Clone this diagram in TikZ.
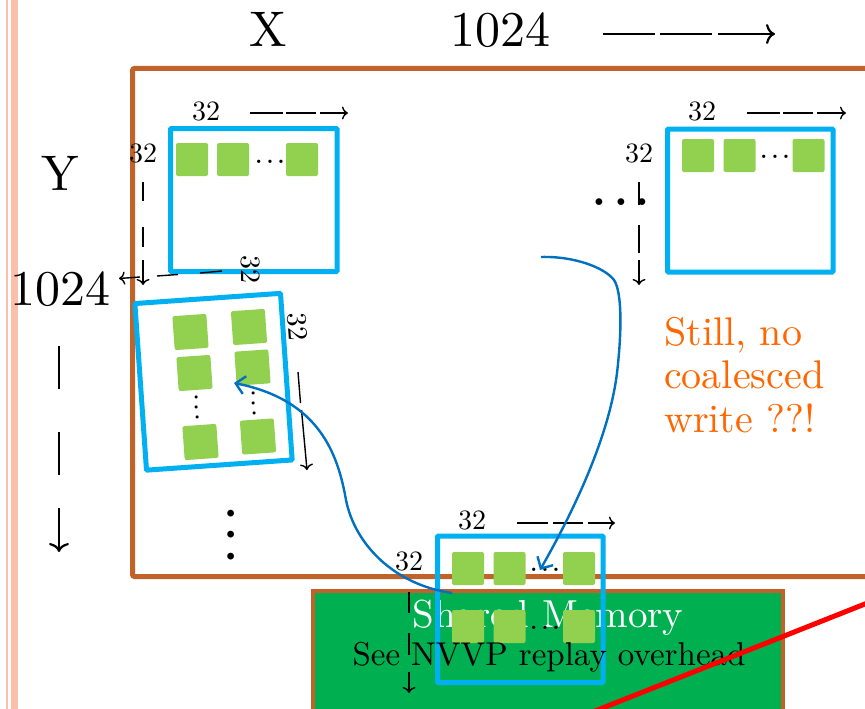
\documentclass[tikz,border=0pt]{standalone}
\usepackage{fontspec}
\setmainfont{lmroman10-regular}[Extension=.otf]
\usetikzlibrary{arrows.meta}
\definecolor{tileblue}{RGB}{0,176,240}
\definecolor{sqgreen}{RGB}{146,208,80}
\definecolor{smgreen}{RGB}{0,176,80}
\definecolor{arrowblue}{RGB}{0,112,192}
\definecolor{brownline}{RGB}{193,98,42}
\definecolor{pinkline}{RGB}{250,192,172}
\definecolor{warnorange}{RGB}{255,102,0}
\newcommand\tdots[1]{.\kern#1.\kern#1.}
\begin{document}
\begin{tikzpicture}[x=1pt,y=-1pt,
  tile/.style={draw=tileblue,line width=5pt,rounded corners=1pt,inner sep=0pt,outer sep=0pt},
  sq/.style={fill=sqgreen,rounded corners=2pt,minimum width=32pt,minimum height=33pt,inner sep=0pt},
  rsq/.style={sq,minimum width=34pt,minimum height=34pt,rotate=4},
  dimline/.style={line width=1.4pt,black},
  dimarrow/.style={dimline,-{To[length=6pt,width=13pt]}},
  bigline/.style={line width=2.2pt,black},
  bigarrow/.style={bigline,-{To[length=9pt,width=20pt]}},
  lbl/.style={inner sep=0pt,font=\fontsize{28}{30}\selectfont},
  big/.style={inner sep=0pt,font=\fontsize{50}{55}\selectfont},
  dotsm/.style={inner sep=0pt,font=\fontsize{32}{34}\selectfont},
  dotbig/.style={inner sep=0pt,font=\fontsize{64}{66}\selectfont},
  warn/.style={inner sep=0pt,anchor=base west,text=warnorange,font=\fontsize{40}{46}\selectfont},
  curv/.style={draw=arrowblue,line width=2.4pt,-{Straight Barb[length=9pt,width=18pt,line width=2.4pt]}}
]
\useasboundingbox (0,0) rectangle (865,709);
\clip (0,0) rectangle (865,709);

% slide border
\fill[pinkline] (6,-5) rectangle (8,715);
\fill[pinkline] (11,-5) rectangle (18,715);

% matrix frame
\draw[brownline,line width=5pt,rounded corners=2pt] (132.5,68.5) rectangle (890,576.5);

% shared memory
\filldraw[fill=smgreen,draw=brownline,line width=4pt] (313,591) rectangle (783,730);
\node[inner sep=0pt,anchor=base,text=white,font=\fontsize{39}{42}\selectfont] (smtitle) at (548,627) {Shared Memory};

% top-left tile
\node[sq] (a1) at (192,159.5) {};
\node[sq] (a2) at (233,159.5) {};
\node[sq] (a3) at (302,159.5) {};
\node[dotsm] (ad) at (270,162) {\tdots{2.2pt}};
\node[tile,minimum width=166.5pt,minimum height=143pt] (ta) at (253.75,200) {};

% top-right tile
\node[sq] (b1) at (698,155.5) {};
\node[sq] (b2) at (739.5,155.5) {};
\node[sq] (b3) at (808.5,155.5) {};
\node[dotsm] (bd) at (775,157) {\tdots{2.2pt}};
\node[tile,minimum width=165.5pt,minimum height=143pt] (tb) at (750.25,200.5) {};

% bottom tile
\node[sq] (c1) at (468,568.5) {};
\node[sq] (c2) at (509.5,568.5) {};
\node[sq] (c3) at (579,568.5) {};
\node[dotsm] (cd) at (545,570) {\tdots{2.2pt}};
\node[sq] (c4) at (468,626.5) {};
\node[sq] (c5) at (509.5,626.5) {};
\node[sq] (c6) at (579,626.5) {};
\node[dotsm] (ce) at (545,628) {\tdots{2.2pt}};
\node[tile,minimum width=165.5pt,minimum height=146.5pt] (tc) at (520.25,609.25) {};
\node[inner sep=0pt,anchor=base,font=\fontsize{33}{36}\selectfont] (smnote) at (549,665) {See NVVP replay overhead};

% rotated tile
\node[rsq] (d1) at (190.5,332) {};
\node[rsq] (d2) at (249,327) {};
\node[rsq] (d3) at (194.5,373) {};
\node[rsq] (d4) at (252.5,367.5) {};
\node[rsq] (d5) at (200.5,442) {};
\node[rsq] (d6) at (258,436.5) {};
\node[inner sep=0pt,font=\fontsize{30}{32}\selectfont,rotate=94] (dd1) at (197,407.5) {\tdots{2pt}};
\node[inner sep=0pt,font=\fontsize{30}{32}\selectfont,rotate=94] (dd2) at (254,403.5) {\tdots{2pt}};
\node[tile,minimum width=146pt,minimum height=167pt,rotate=4] (td) at (213.5,381.75) {};

% big axis labels
\node[big,anchor=base] (xl) at (268,47) {X};
\node[big,anchor=base] (xn) at (500,47) {1024};
\draw[bigline] (603,34) -- (655,34) (660,34) -- (712,34);
\draw[bigarrow] (718,34) -- (775,34);
\node[big,anchor=base] (yl) at (60,190) {Y};
\node[big,anchor=base] (yn) at (60,305) {1024};
\draw[bigline] (59,346) -- (59,389) (59,432) -- (59,475);
\draw[bigarrow] (59,508) -- (59,552);

% tile size labels
\node[lbl,anchor=base] (la1) at (206,121) {32};
\draw[dimline] (250,113) -- (283,113) (286,113) -- (316,113);
\draw[dimarrow] (320,113) -- (348,113);
\node[lbl,anchor=base] (la2) at (143,162) {32};
\draw[dimline] (143,182) -- (143,201) (143,227) -- (143,247);
\draw[dimarrow] (143,260) -- (143,285);

\node[lbl,anchor=base] (lb1) at (702,121) {32};
\draw[dimline] (747,113) -- (780,113) (783,113) -- (813,113);
\draw[dimarrow] (817,113) -- (846,113);
\node[lbl,anchor=base] (lb2) at (639,162) {32};
\draw[dimline] (639,182) -- (639,205) (639,225) -- (639,253);
\draw[dimarrow] (639,260) -- (639,285);

\node[lbl,anchor=base] (lc1) at (472,529) {32};
\draw[dimline] (517,523) -- (548,523) (553,523) -- (583,523);
\draw[dimarrow] (588,523) -- (615,523);
\node[lbl,anchor=base] (lc2) at (409,570) {32};
\draw[dimline] (409,592) -- (409,613) (409,633) -- (409,655);
\draw[dimarrow] (409,672) -- (409,693);

\node[lbl,rotate=-90] (ld1) at (251,269) {32};
\draw[dimline] (222,271) -- (200,273) (178,274.5) -- (157,276);
\draw[dimarrow] (140,277) -- (119,278.5);
\node[lbl,rotate=-86] (ld2) at (297,327) {32};
\draw[dimline] (298,372) -- (300.5,403);
\draw[dimarrow] (301.5,410) -- (307,470);

% continuation dots
\node[dotbig] (hd) at (621,202) {\tdots{3.7pt}};
\node[dotbig,rotate=90] (vd) at (231,535) {\tdots{3.7pt}};

% remark
\node[warn] (w1) at (664,345) {Still, no};
\node[warn] (w2) at (664,388) {coalesced};
\node[warn] (w3) at (664,432) {write ??!};

% data movement arrows
\coordinate (srcA) at (541,257);
\coordinate (dstA) at (540,570);
\coordinate (srcB) at (452,593);
\coordinate (dstB) at (234,383);
\draw[curv] (srcA) .. controls (575,256) and (605,268) .. (614,280)
  .. controls (622,292) and (622,330) .. (617,373)
  .. controls (610,430) and (580,500) .. (dstA);
\draw[curv] (srcB) .. controls (395,585) and (355,545) .. (346,500)
  .. controls (338,455) and (320,400) .. (dstB);

% strike line
\draw[red,line width=5pt] (590,713) -- (880,598);
\end{tikzpicture}
\end{document}
